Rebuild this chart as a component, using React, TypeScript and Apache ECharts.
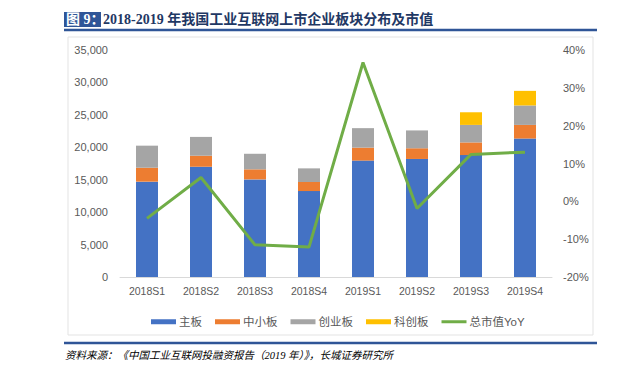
import React, { useEffect, useRef } from "react";
import * as echarts from "echarts";

const categories = ["2018S1", "2018S2", "2018S3", "2018S4", "2019S1", "2019S2", "2019S3", "2019S4"];
const mainBoard = [14700, 17000, 15050, 13250, 17950, 18200, 18800, 21350];
const smeBoard = [2150, 1700, 1550, 1400, 2000, 1650, 1950, 2100];
const chinext = [3400, 2900, 2400, 2100, 3000, 2750, 2700, 3000];
const starMarket = [null, null, null, null, null, null, 1950, 2250];
const marketCapYoY = [-4.5, 6.3, -11.5, -12.1, 36.7, -1.9, 12.4, 13.0];

const seriesNames = ["主板", "中小板", "创业板", "科创板", "总市值YoY"];
const titleLabel = "图 9：";
const titleText = "2018-2019 年我国工业互联网上市企业板块分布及市值";
const sourceText = "资料来源：《中国工业互联网投融资报告（2019 年）》，长城证券研究所";

export default function App() {
  const ref = useRef<HTMLDivElement>(null);
  useEffect(() => {
    if (!ref.current) return;
    const chart = echarts.init(ref.current, null, { renderer: "svg" });
    const labelColor = "#595959";
    const font = "'Liberation Sans', 'Noto Sans CJK SC', sans-serif";
    const barCommon = { type: "bar", stack: "total", barWidth: 22 };
    chart.setOption({
      animation: false,
      backgroundColor: "#ffffff",
      textStyle: { fontFamily: font },
      grid: { left: 120, right: 91, top: 50, bottom: 105, containLabel: false },
      legend: {
        left: 146,
        top: 311,
        itemWidth: 25,
        itemHeight: 5,
        itemGap: 13,
        textStyle: { color: labelColor, fontSize: 11.5, fontFamily: font, padding: [0, 0, 0, -2] },
        data: [
          { name: seriesNames[0], icon: "rect" },
          { name: seriesNames[1], icon: "rect" },
          { name: seriesNames[2], icon: "rect" },
          { name: seriesNames[3], icon: "rect" },
          { name: seriesNames[4], icon: "path://M0,1 L25,1 L25,4 L0,4 Z" },
        ],
      },
      xAxis: {
        type: "category",
        data: categories,
        axisLine: { lineStyle: { color: "#D9D9D9" } },
        axisTick: { show: false },
        axisLabel: { color: labelColor, fontSize: 10.5, margin: 9 },
      },
      yAxis: [
        {
          type: "value",
          min: 0,
          max: 35000,
          interval: 5000,
          axisLine: { show: false },
          axisTick: { show: false },
          splitLine: { show: false },
          axisLabel: {
            color: labelColor,
            fontSize: 11,
            margin: 12,
            formatter: (v: number) => v.toLocaleString("en-US"),
          },
        },
        {
          type: "value",
          min: -20,
          max: 40,
          interval: 10,
          axisLine: { show: false },
          axisTick: { show: false },
          splitLine: { show: false },
          axisLabel: { color: labelColor, fontSize: 11, margin: 11, formatter: "{value}%" },
        },
      ],
      series: [
        { ...barCommon, name: seriesNames[0], data: mainBoard, itemStyle: { color: "#4472C4" } },
        { ...barCommon, name: seriesNames[1], data: smeBoard, itemStyle: { color: "#ED7D31" } },
        { ...barCommon, name: seriesNames[2], data: chinext, itemStyle: { color: "#A5A5A5" } },
        { ...barCommon, name: seriesNames[3], data: starMarket, itemStyle: { color: "#FFC000" } },
        {
          type: "line",
          name: seriesNames[4],
          yAxisIndex: 1,
          data: marketCapYoY,
          symbol: "none",
          lineStyle: { color: "#70AD47", width: 3 },
          itemStyle: { color: "#70AD47" },
          z: 5,
        },
      ],
      graphic: [
        {
          type: "rect",
          shape: { x: 68, y: 37, width: 525, height: 298 },
          style: { fill: "none", stroke: "#E3E3E3", lineWidth: 1 },
          z: -1,
        },
        {
          type: "rect",
          shape: { x: 64, y: 12, width: 37, height: 15 },
          style: { fill: "#2F5597" },
        },
        {
          type: "text",
          x: 66,
          y: 19.5,
          style: {
            text: titleLabel,
            fill: "#ffffff",
            font: "bold 14px 'Liberation Serif', 'Noto Sans CJK SC', serif",
            verticalAlign: "middle",
          },
        },
        {
          type: "text",
          x: 103,
          y: 19.5,
          style: {
            text: titleText,
            fill: "#1F3864",
            font: "bold 14px 'Liberation Serif', 'Noto Sans CJK SC', serif",
            verticalAlign: "middle",
          },
        },
        {
          type: "line",
          shape: { x1: 64, y1: 30, x2: 597, y2: 30 },
          style: { stroke: "#2F5597", lineWidth: 2.5 },
        },
        {
          type: "line",
          shape: { x1: 64, y1: 343, x2: 597, y2: 343 },
          style: { stroke: "#2F5597", lineWidth: 2.5 },
        },
        {
          type: "text",
          x: 65,
          y: 355,
          style: {
            text: sourceText,
            fill: "#000000",
            font: "italic 10.5px 'Liberation Serif', 'Noto Sans CJK SC', serif",
            verticalAlign: "middle",
          },
        },
      ],
    });
    return () => chart.dispose();
  }, []);
  return (
    <div
      ref={ref}
      style={{ position: "fixed", left: 0, top: 0, width: 643, height: 382, background: "#fff" }}
    />
  );
}
